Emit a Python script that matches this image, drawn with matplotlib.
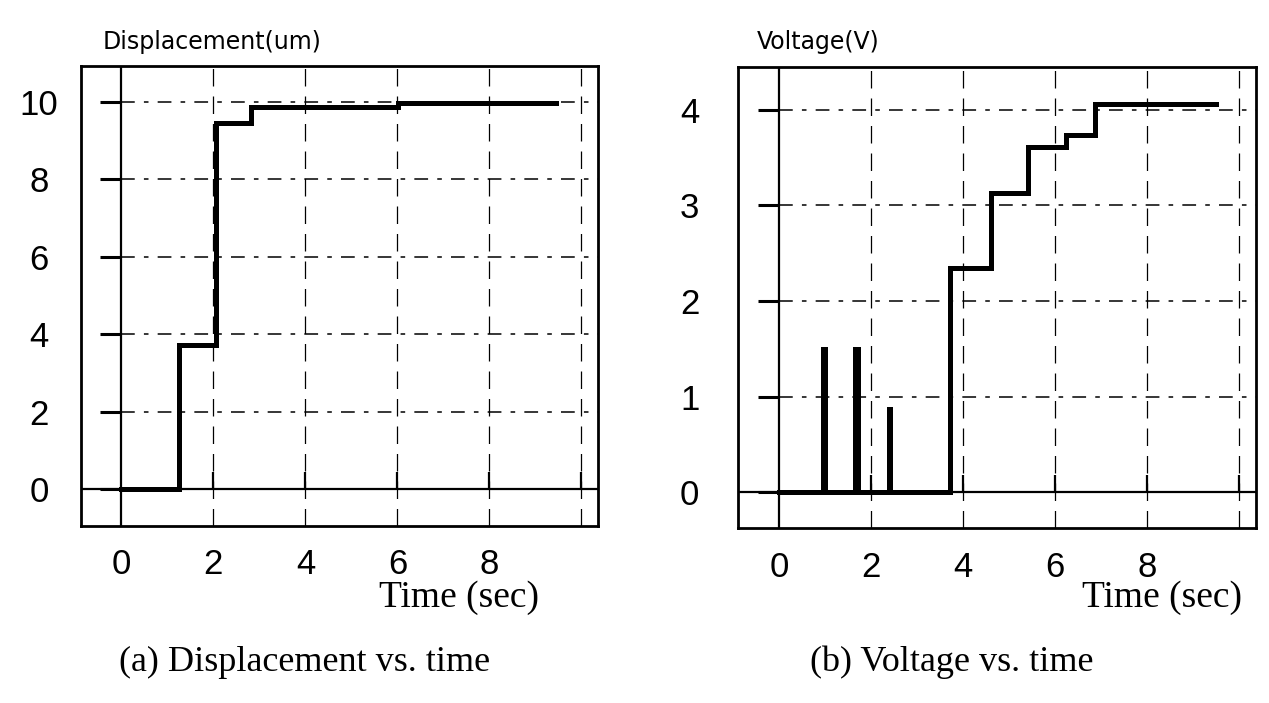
import matplotlib
matplotlib.use('Agg')
import matplotlib.pyplot as plt

# data
disp_t = [0.0, 1.25, 2.06, 2.82, 6.02, 9.45]
disp_v = [0.0, 3.72, 9.44, 9.87, 9.97, 9.97]

volt_t = [0.0, 0.95, 1.01, 1.65, 1.71, 2.40, 2.42, 3.71, 4.60, 5.42, 6.23, 6.87, 9.50]
volt_v = [0.0, 1.50, 0.00, 1.50, 0.00, 0.87, 0.00, 2.35, 3.13, 3.61, 3.74, 4.06, 4.06]

disp_yticks = [0, 2, 4, 6, 8, 10]
volt_yticks = [0, 1, 2, 3, 4]
xticks = [0, 2, 4, 6, 8]
grid_x = [2, 4, 6, 8, 10]

tick_font = ['Liberation Sans Narrow', 'Liberation Sans', 'DejaVu Sans']
serif_font = ['Liberation Serif', 'DejaVu Serif']


def draw_panel(ax, t, v, yticks, ylim, ypad):
    ax.set_xlim(-0.885, 10.36)
    ax.set_ylim(*ylim)
    # grid
    for gy in yticks[1:]:
        ax.plot([0, 10.36], [gy, gy], color='black', lw=1.1, dashes=(9, 6, 3, 6))
    for gx in grid_x:
        ax.axvline(gx, color='black', lw=0.9, dashes=(14, 8))
    # zero axes
    ax.axhline(0, color='black', lw=1.6)
    ax.axvline(0, color='black', lw=1.6)
    ax.plot(grid_x, [0] * len(grid_x), linestyle='none', marker=2,
            markersize=12, mew=1.6, color='black')
    ax.plot([0] * len(yticks), yticks, linestyle='none', marker=0,
            markersize=15, mew=2.2, color='black')
    # data
    ax.plot(t, v, drawstyle='steps-post', color='black', lw=3.6,
            solid_joinstyle='miter')
    ax.set_xticks(xticks)
    ax.set_yticks(yticks)
    ax.tick_params(length=0, labelsize=25)
    ax.tick_params(axis='x', pad=16)
    ax.tick_params(axis='y', pad=ypad)
    for lab in ax.get_xticklabels() + ax.get_yticklabels():
        lab.set_family(tick_font)
    for lab in ax.get_yticklabels():
        lab.set_horizontalalignment('center')
    for s in ax.spines.values():
        s.set_linewidth(2)


fig = plt.figure(figsize=(12.69, 7.03), dpi=100)
ax1 = fig.add_axes([0.0636, 0.2522, 0.4076, 0.6543])
ax2 = fig.add_axes([0.5818, 0.2485, 0.4077, 0.6566])

draw_panel(ax1, disp_t, disp_v, disp_yticks, (-0.94, 10.93), 30)
draw_panel(ax2, volt_t, volt_v, volt_yticks, (-0.375, 4.45), 35)

fig.text(103 / 1269, 1 - 42 / 703, 'Displacement(um)', fontsize=17,
         family='DejaVu Sans', ha='left', va='center')
fig.text(757 / 1269, 1 - 42 / 703, 'Voltage(V)', fontsize=17,
         family='DejaVu Sans', ha='left', va='center')

fig.text(459 / 1269, 1 - 598 / 703, 'Time (sec)', fontsize=27,
         family=serif_font, ha='center', va='center')
fig.text(1162 / 1269, 1 - 598 / 703, 'Time (sec)', fontsize=27,
         family=serif_font, ha='center', va='center')
fig.text(305 / 1269, 1 - 662 / 703, '(a) Displacement vs. time', fontsize=26,
         family=serif_font, ha='center', va='center')
fig.text(952 / 1269, 1 - 662 / 703, '(b) Voltage vs. time', fontsize=26,
         family=serif_font, ha='center', va='center')

plt.savefig('out.png', dpi=100)
